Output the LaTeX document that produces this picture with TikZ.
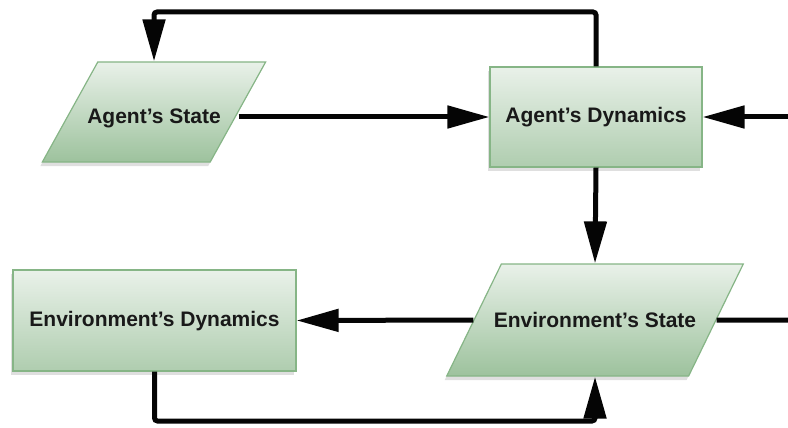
\documentclass[tikz,border=0pt]{standalone}
\usepackage{fontspec}
\setmainfont{Liberation Sans}
\usetikzlibrary{arrows.meta,shapes.geometric,shadows}
\definecolor{BoxTopClr}{HTML}{E9F1E9}
\definecolor{BoxBotClr}{HTML}{AFCDAF}
\definecolor{StateBotClr}{HTML}{9DC29D}
\definecolor{BoxLineClr}{HTML}{86B586}
\definecolor{FlowClr}{HTML}{050505}

\tikzset{
  dynbox/.style={rectangle,draw=BoxLineClr,line width=1.2pt,
    top color=BoxTopClr,bottom color=BoxBotClr,
    drop shadow={shadow xshift=-2pt,shadow yshift=-4pt,opacity=0.25},
    font=\bfseries\fontsize{21}{24}\selectfont,text=black!90,inner sep=2pt,
    text height=15pt,text depth=4pt},
  statebox/.style={dynbox,trapezium,trapezium stretches body,
    bottom color=StateBotClr},
  flow/.style={draw=FlowClr,line width=5pt,rounded corners=3pt,
    -{Triangle[length=42pt,width=22pt]}},
  link/.style={draw=FlowClr,line width=5pt}
}

\begin{document}
\begin{tikzpicture}[x=1pt,y=-1pt]
\useasboundingbox (0,0) rectangle (788,428);

\node[statebox,trapezium left angle=61,trapezium right angle=119,
  text height=23pt,text depth=-4pt,
  inner ysep=38.5pt,inner xsep=-10.5pt] (as) at (154,112) {Agent's State};
\node[dynbox,minimum width=212pt,minimum height=100pt] (ad) at (596,117) {Agent's Dynamics};
\node[statebox,trapezium left angle=64,trapezium right angle=116,
  text height=17pt,text depth=2pt,
  inner ysep=46.5pt,inner xsep=-7.5pt] (es) at (595,320) {Environment's State};
\node[dynbox,minimum width=283pt,minimum height=101pt] (ed) at (154.5,320.5) {Environment's Dynamics};

\coordinate (agentin) at (788,117);
\coordinate (envout) at (788,320);
\coordinate (toploop) at (380,12);
\coordinate (botloop) at (380,421);

\draw[flow] (ad.west -| as.east) -- (ad.west);
\draw[flow] (agentin) -- (ad.east);
\draw[flow] (ad.north) |- (toploop) -| (as.north);
\draw[flow] (ad.south) -- (es.north);
\draw[flow] (es.west) -- (ed.east);
\draw[link] (es.east) -- (envout);
\draw[flow] (ed.south) |- (botloop) -| (es.south);

\end{tikzpicture}
\end{document}
